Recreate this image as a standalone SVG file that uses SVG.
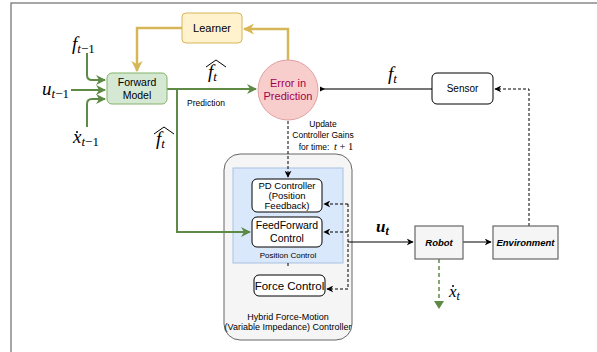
<svg xmlns="http://www.w3.org/2000/svg" width="597" height="352" viewBox="0 0 597 352">
<defs>
<style>
.lbl{font-family:"Liberation Sans",Arial,sans-serif;fill:#000;text-anchor:middle}
.m{font-family:"Liberation Serif","Times New Roman",serif;font-style:italic;fill:#000}
.mn{font-family:"Liberation Serif","Times New Roman",serif;font-style:normal}
.g{fill:none;stroke:#5e8a46;stroke-width:2}
.y{fill:none;stroke:#d6b656;stroke-width:2.5}
.k{fill:none;stroke:#000;stroke-width:1}
.d{fill:none;stroke:#000;stroke-width:1;stroke-dasharray:3 2}
</style>
<marker id="ag" viewBox="0 0 10 10" refX="9" refY="5" markerWidth="5" markerHeight="5" orient="auto" markerUnits="strokeWidth"><path d="M0,0 L10,5 L0,10 L3,5 z" fill="#5e8a46"/></marker>
<marker id="ay" viewBox="0 0 10 10" refX="9" refY="5" markerWidth="4.5" markerHeight="4.5" orient="auto" markerUnits="strokeWidth"><path d="M0,0 L10,5 L0,10 L3,5 z" fill="#d6b656"/></marker>
<marker id="ak" viewBox="0 0 10 10" refX="9" refY="5" markerWidth="7" markerHeight="7" orient="auto" markerUnits="strokeWidth"><path d="M0,0 L10,5 L0,10 L3,5 z" fill="#000"/></marker>
</defs>
<rect width="597" height="352" fill="#fff"/>
<rect x="11" y="3" width="620" height="400" fill="none" stroke="#777" stroke-width="1.3"/>

<g id="controller">
<rect x="224" y="154" width="128" height="186" rx="16" fill="#f5f5f5" stroke="#666" stroke-width="1"/>
<text class="lbl" x="288" y="320" font-size="9">Hybrid Force-Motion</text>
<text class="lbl" x="288" y="330" font-size="9">(Variable Impedance) Controller</text>
</g>
<g id="position-control">
<rect x="233" y="168" width="110" height="95" fill="#dae8fc" stroke="#a9c0e0" stroke-width="1"/>
<text class="lbl" x="288" y="258" font-size="8">Position Control</text>
</g>

<g id="connectors">
<path class="y" d="M288,60 V29 H244" marker-end="url(#ay)"/>
<path class="y" d="M182,28 H137 V71" marker-end="url(#ay)"/>
<path class="g" d="M87,53 V75 Q87,80 92,80 H105" marker-end="url(#ag)"/>
<path class="g" d="M71,90 H105" marker-end="url(#ag)"/>
<path class="g" d="M87,127 V104 Q87,99 92,99 H105" marker-end="url(#ag)"/>
<path class="g" d="M167,89 H256" marker-end="url(#ag)"/>
<path class="g" d="M177,89 V232 H250" marker-end="url(#ag)"/>
<path d="M432,89 H321" fill="none" stroke="#777" stroke-width="1.8"/>
<path d="M325,89 l-5,-2.5 v5 z" fill="#000"/>
<path class="d" d="M288,121 V177" marker-end="url(#ak)"/>
<path class="d" d="M529,226 V89 H495" marker-end="url(#ak)"/>
<path class="d" d="M348,204 H324" marker-end="url(#ak)"/>
<path class="d" d="M348,232 H324" marker-end="url(#ak)"/>
<path class="d" d="M348,204 V289 H327" marker-end="url(#ak)"/>
<path class="d" d="M288,263 V268"/>
<path class="k" d="M348,242 H413" marker-end="url(#ak)"/>
<path class="k" d="M463,242 H491" marker-end="url(#ak)"/>
<path d="M439,259 V302" fill="none" stroke="#5e8a46" stroke-width="1.5" stroke-dasharray="4 3"/>
<path d="M434,301 L444,301 L439,309 z" fill="#5e8a46"/>
</g>

<g id="learner">
<rect x="182" y="13" width="60" height="30" rx="4" fill="#fff2cc" stroke="#d6b656" stroke-width="1"/>
<text class="lbl" x="212" y="32" font-size="11">Learner</text>
</g>
<g id="forward-model">
<rect x="107" y="73" width="60" height="31" rx="5" fill="#d5e8d4" stroke="#82b366" stroke-width="1"/>
<text class="lbl" x="137" y="86" font-size="10.5">Forward</text>
<text class="lbl" x="137" y="99" font-size="10.5">Model</text>
</g>
<g id="error">
<circle cx="288" cy="90" r="30" fill="#f8cecc" stroke="#e0a0a0" stroke-width="1"/>
<text class="lbl" x="288" y="87" font-size="11" style="fill:#a3004e">Error in</text>
<text class="lbl" x="288" y="100" font-size="11" style="fill:#a3004e">Prediction</text>
</g>
<g id="sensor">
<rect x="432" y="73" width="61" height="31" rx="5" fill="#fff" stroke="#000" stroke-width="1"/>
<text class="lbl" x="462.5" y="92" font-size="10">Sensor</text>
</g>
<g id="pd">
<rect x="252" y="179" width="70" height="33" rx="5" fill="#fff" stroke="#000" stroke-width="1"/>
<text class="lbl" x="287" y="189" font-size="9.5">PD Controller</text>
<text class="lbl" x="287" y="199" font-size="9.5">(Position</text>
<text class="lbl" x="287" y="209" font-size="9.5">Feedback)</text>
</g>
<g id="ff">
<rect x="252" y="217" width="70" height="30" rx="5" fill="#fff" stroke="#000" stroke-width="1"/>
<text class="lbl" x="287" y="229" font-size="10.5">FeedForward</text>
<text class="lbl" x="287" y="242" font-size="10.5">Control</text>
</g>
<g id="force">
<rect x="254" y="275" width="71" height="21" rx="5" fill="#fff" stroke="#000" stroke-width="1"/>
<text class="lbl" x="289.5" y="290" font-size="11.5">Force Control</text>
</g>
<g id="robot">
<rect x="415" y="226" width="48" height="33" fill="#f5f5f5" stroke="#666" stroke-width="1.2"/>
<text class="lbl" x="439" y="246" font-size="9.5" font-weight="bold" font-style="italic">Robot</text>
</g>
<g id="environment">
<rect x="493" y="226" width="65" height="33" fill="#f5f5f5" stroke="#666" stroke-width="1.2"/>
<text class="lbl" x="525.5" y="246" font-size="9.5" font-weight="bold" font-style="italic">Environment</text>
</g>

<g id="labels">
<text class="m" x="72" y="50" font-size="19">f<tspan font-size="13" dy="3">t<tspan class="mn">−1</tspan></tspan></text>
<text class="m" x="42" y="95" font-size="19">u<tspan font-size="13" dy="3">t<tspan class="mn">−1</tspan></tspan></text>
<text class="m" x="73" y="143" font-size="19">x<tspan font-size="13" dy="3">t<tspan class="mn">−1</tspan></tspan></text>
<circle cx="77" cy="132" r="1" fill="#000"/>
<text class="lbl" x="206" y="106" font-size="8.5">Prediction</text>
<text class="m" x="208" y="78" font-size="19">f<tspan font-size="13" dy="3">t</tspan></text>
<polyline points="206,67 216,60 226,67" fill="none" stroke="#000" stroke-width="1"/>
<text class="m" x="156" y="145" font-size="19">f<tspan font-size="13" dy="3">t</tspan></text>
<polyline points="154,134 164,127 174,134" fill="none" stroke="#000" stroke-width="1"/>
<text class="m" x="388" y="80" font-size="19">f<tspan font-size="13" dy="3">t</tspan></text>
<text class="lbl" x="323" y="127" font-size="8.5">Update</text>
<text class="lbl" x="323" y="137.5" font-size="8.5">Controller Gains</text>
<text class="lbl" x="314" y="150" font-size="8.5">for time:</text>
<text class="m" x="334" y="150" font-size="10.5">t<tspan class="mn"> + 1</tspan></text>
<text class="m" x="376" y="232" font-size="17" font-weight="bold">u<tspan font-size="12" dy="3">t</tspan></text>
<text class="m" x="449" y="297" font-size="17">x<tspan font-size="12" dy="3">t</tspan></text>
<circle cx="453" cy="286" r="1" fill="#000"/>
</g>
</svg>
